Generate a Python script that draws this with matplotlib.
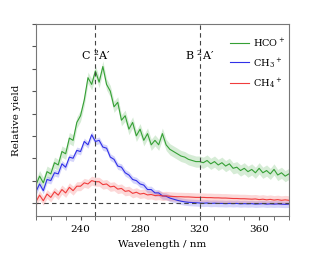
import numpy as np
import matplotlib
matplotlib.use('Agg')
import matplotlib.pyplot as plt

plt.rcParams['font.family'] = 'DejaVu Serif'
plt.rcParams['mathtext.fontset'] = 'dejavuserif'

# wavelength grid (nm)
wavelength = [210, 212.5, 215, 217.5, 220, 222.5, 225, 227.5, 230, 232.5,
              235, 237.5, 240, 242.5, 245, 247.5, 250, 252.5, 255, 257.5,
              260, 262.5, 265, 267.5, 270, 272.5, 275, 277.5, 280, 282.5,
              285, 287.5, 290, 292.5, 295, 297.5, 300, 302.5, 305, 307.5,
              310, 312.5, 315, 317.5, 320, 322.5, 325, 327.5, 330, 332.5,
              335, 337.5, 340, 342.5, 345, 347.5, 350, 352.5, 355, 357.5,
              360, 362.5, 365, 367.5, 370, 372.5, 375, 377.5, 380]

hco = [0.8, 1.2, 0.9, 1.4, 1.3, 1.8, 1.7, 2.3, 2.2, 2.9,
       2.8, 3.6, 3.9, 4.6, 5.6, 5.3, 5.9, 5.4, 6.1, 5.3,
       5.0, 4.3, 4.5, 3.7, 3.9, 3.3, 3.6, 3.0, 3.3, 2.8,
       3.1, 2.6, 2.8, 2.6, 3.1, 2.6, 2.4, 2.3, 2.2, 2.1,
       2.05, 1.95, 1.9, 1.85, 1.85, 1.8, 1.9, 1.75, 1.85, 1.7,
       1.8, 1.65, 1.75, 1.55, 1.6, 1.45, 1.55, 1.4, 1.5, 1.35,
       1.55, 1.35, 1.45, 1.3, 1.5, 1.25, 1.35, 1.2, 1.3]

ch3 = [0.5, 0.85, 0.55, 1.05, 1.0, 1.35, 1.3, 1.75, 1.6, 2.05,
       2.0, 2.35, 2.3, 2.75, 2.6, 3.05, 2.75, 2.8, 2.5, 2.45,
       2.05, 1.95, 1.65, 1.6, 1.35, 1.25, 1.05, 1.0, 0.85, 0.8,
       0.6, 0.6, 0.45, 0.45, 0.32, 0.3, 0.22, 0.17, 0.12, 0.08,
       0.05, 0.03, 0.02, 0.01, 0.0, -0.01, 0.0, -0.02, -0.01, -0.02,
       -0.02, -0.03, -0.02, -0.03, -0.02, -0.04, -0.03, -0.04, -0.03, -0.05,
       -0.04, -0.03, -0.05, -0.04, -0.05, -0.04, -0.05, -0.06, -0.05]

ch4 = [0.05, 0.35, 0.1, 0.4, 0.25, 0.5, 0.35, 0.6, 0.45, 0.7,
       0.55, 0.75, 0.75, 0.9, 0.85, 1.0, 0.95, 0.95, 0.82, 0.85,
       0.72, 0.75, 0.62, 0.65, 0.52, 0.55, 0.43, 0.48, 0.4, 0.43,
       0.36, 0.38, 0.33, 0.35, 0.31, 0.32, 0.3, 0.29, 0.28, 0.28,
       0.27, 0.27, 0.26, 0.25, 0.25, 0.25, 0.24, 0.24, 0.23, 0.23,
       0.22, 0.22, 0.21, 0.2, 0.2, 0.19, 0.19, 0.18, 0.17, 0.18,
       0.15, 0.17, 0.14, 0.16, 0.13, 0.15, 0.12, 0.14, 0.12]

series = [
    (hco, 'HCO$^+$', '#35a035', 0.25),
    (ch3, 'CH$_3$$^+$', '#3030e8', 0.15),
    (ch4, 'CH$_4$$^+$', '#f03c3c', 0.2),
]

# states marked with vertical lines
state_pos = [250, 320]
state_lab = ['C $^2$A\u2032', 'B $^2$A\u2032']

fig = plt.figure(figsize=(3.12, 2.64), dpi=100)
ax = fig.add_axes([0.115, 0.182, 0.811, 0.727])

x = np.array(wavelength)
for y, lab, col, err in series:
    y = np.array(y)
    ax.fill_between(x, y - err, y + err, color=col, alpha=0.2, lw=0)
    ax.plot(x, y, color=col, lw=0.8, label=lab)

ax.axhline(0, color='#444444', ls=(0, (4, 3)), lw=0.8)
for p, lab in zip(state_pos, state_lab):
    ax.axvline(p, color='#444444', ls=(0, (4, 3)), lw=0.8)
    ax.text(p, 6.6, lab, ha='center', va='center', fontsize=8)

ax.set_xlim(210, 380)
ax.set_ylim(-0.58, 8)
ax.set_xticks([240, 280, 320, 360])
ax.set_xticks(range(210, 381, 10), minor=True)
ax.set_yticks(range(0, 9))
ax.set_yticklabels([])
ax.tick_params(axis='both', which='both', direction='out', color='#555555',
               labelsize=7.5, length=3)
for s in ax.spines.values():
    s.set_color('#777777')
    s.set_linewidth(0.8)

ax.set_xlabel('Wavelength / nm', fontsize=7.5)
ax.set_ylabel('Relative yield', fontsize=7.5)

ax.legend(loc='upper right', frameon=False, fontsize=7, handlelength=2.0,
          handletextpad=0.4, labelspacing=0.7, bbox_to_anchor=(1.02, 0.98))

fig.savefig('out.png', dpi=100)
